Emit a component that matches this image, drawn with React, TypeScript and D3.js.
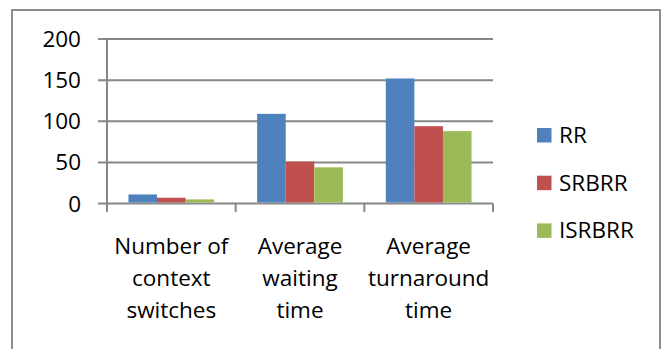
import React from "react";
import * as d3 from "d3";

const categories = [
  ["Number of", "context", "switches"],
  ["Average", "waiting", "time"],
  ["Average", "turnaround", "time"],
];
const seriesNames = ["RR", "SRBRR", "ISRBRR"];
const rrValues = [11, 109, 152];
const srbrrValues = [7, 51, 94];
const isrbrrValues = [5, 44, 88];
const yTicks = [0, 50, 100, 150, 200];
const colors = ["#4F81BD", "#C0504D", "#9BBB59"];

const W = 667;
const H = 349;
const FONT = "'Open Sans', sans-serif";

export default function App() {
  const series = [rrValues, srbrrValues, isrbrrValues];
  const plotLeft = 107;
  const plotRight = 493;
  const y = d3.scaleLinear().domain([0, 200]).range([203.5, 39]);
  const x0 = d3
    .scaleBand<number>()
    .domain(categories.map((_, i) => i))
    .range([plotLeft, plotRight])
    .paddingInner(0)
    .paddingOuter(0);
  const groupW = x0.bandwidth() * (3 / 4.5);
  const x1 = d3
    .scaleBand<number>()
    .domain(seriesNames.map((_, i) => i))
    .range([0, groupW]);
  const grid = "#878787";

  return (
    <svg
      width={W}
      height={H}
      style={{ position: "absolute", left: 0, top: 0, background: "#fff" }}
      fontFamily={FONT}
    >
      <rect x={12} y={10} width={648} height={360} fill="#fff" stroke="#8c8c8c" strokeWidth={2} />
      {yTicks.map((t) => (
        <g key={t}>
          <line x1={98} x2={plotRight} y1={y(t)} y2={y(t)} stroke={grid} strokeWidth={2} />
          <text x={81} y={y(t)} dy="0.36em" textAnchor="end" fontSize={22.5} fill="#000">
            {t}
          </text>
        </g>
      ))}
      <line x1={plotLeft} x2={plotLeft} y1={y(200)} y2={212} stroke={grid} strokeWidth={2} />
      {categories.map((_, i) => (
        <line
          key={"t" + i}
          x1={(x0(i) as number) + x0.bandwidth()}
          x2={(x0(i) as number) + x0.bandwidth()}
          y1={y(0)}
          y2={212}
          stroke={grid}
          strokeWidth={2}
        />
      ))}
      {categories.map((_, ci) =>
        series.map((vals, si) => {
          const bx = (x0(ci) as number) + (x0.bandwidth() - groupW) / 2 + (x1(si) as number);
          return (
            <rect
              key={ci + "-" + si}
              x={bx}
              y={y(vals[ci])}
              width={x1.bandwidth()}
              height={y(0) - y(vals[ci]) - 1}
              fill={colors[si]}
            />
          );
        })
      )}
      {categories.map((lines, ci) => (
        <text
          key={"c" + ci}
          textAnchor="middle"
          fontSize={22.5}
          fill="#000"
        >
          {lines.map((l, li) => (
            <tspan key={li} x={(x0(ci) as number) + x0.bandwidth() / 2} y={254 + li * 32}>
              {l}
            </tspan>
          ))}
        </text>
      ))}
      {seriesNames.map((n, i) => (
        <g key={n}>
          <rect x={537} y={128 + i * 47.7} width={14.5} height={14.5} fill={colors[i]} />
          <text x={559} y={143 + i * 47.7} fontSize={22.5} fill="#000">
            {n}
          </text>
        </g>
      ))}
    </svg>
  );
}
